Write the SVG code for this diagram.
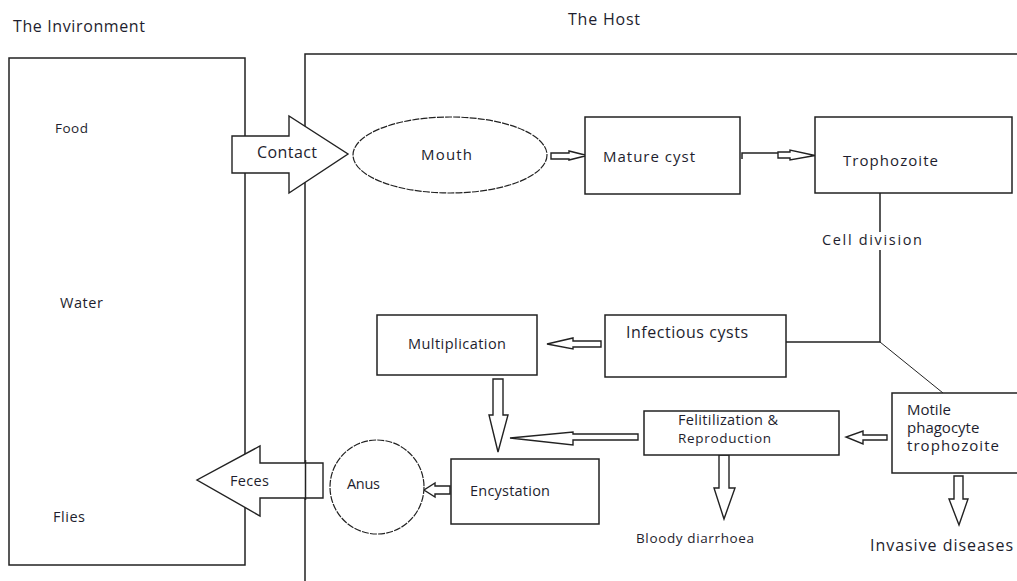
<svg xmlns="http://www.w3.org/2000/svg" width="1017" height="581" viewBox="0 0 1017 581">
<style>
.ln{fill:none;stroke:#222;stroke-width:1.5}
.bx{fill:#fff;stroke:#222;stroke-width:1.5}
.ds{fill:#fff;stroke:#222;stroke-width:1.2;stroke-dasharray:7 1.2}
.ar{fill:#fff;stroke:#222;stroke-width:1.4;stroke-linejoin:miter}
.t{font-family:"Open Sans","DejaVu Sans",sans-serif;fill:#1e1e2e}
.s15{font-size:16px}
.s14{font-size:15px}
.s13{font-size:14.5px}
.s12{font-size:13.5px}
</style>
<rect width="1017" height="581" fill="#fff"/>
<text class="t s15" x="13" y="32" textLength="132">The Invironment</text>
<text class="t s15" x="568" y="25" textLength="72">The Host</text>

<g id="environment">
<rect class="bx" x="9" y="58" width="236" height="507"/>
<text class="t s12" x="55" y="133" textLength="33">Food</text>
<text class="t s13" x="60" y="308" textLength="43">Water</text>
<text class="t s13" x="53" y="522" textLength="32">Flies</text>
</g>

<g id="host">
<path class="ln" d="M305,581 V54 H1017"/>
</g>

<g id="connectors">
<path class="ar" d="M232,136 H289 V116 L348,154 L289,193 V173 H232 Z"/>
<path class="ar" d="M323,463 H260 V446 L197,480 L260,516 V498 H323 Z"/>
<line x1="305.5" y1="460" x2="305.5" y2="500" stroke="#222" stroke-width="1.5"/>
<path class="ar" d="M551,153 H569 V151 L587,155.5 L569,160 V159 H551 Z"/>
<path class="ln" d="M742,159 V153 H778"/>
<path class="ar" d="M778,152 H790 V150 L815,155.5 L790,160 V158 H778 Z"/>
<path class="ln" d="M880,193 V232 M880,250 V342 H786"/>
<path fill="none" stroke="#222" stroke-width="1" d="M880,342 L943,393"/>
<path class="ar" d="M601,341 V347 H573 V349 L547,344 L573,338 V341 Z"/>
<path class="ar" d="M493,379 H503 V415 H508 L498,452 L489,415 H493 Z"/>
<path class="ar" d="M638,434 V440 H573 V445 L510,438 L573,432 V434 Z"/>
<path class="ar" d="M887,435 V440 H863 V444 L846,437 L863,431 V435 Z"/>
<path class="ar" d="M719,455 H729 V488 H735 L724,519 L714,488 H719 Z"/>
<path class="ar" d="M954,476 H963 V499 H968 L959,525 L949,499 H954 Z"/>
<path class="ar" d="M450,486 V494 H435 V497 L424,490 L435,483 V486 Z"/>
</g>

<text class="t s15" x="257" y="158" textLength="60">Contact</text>
<text class="t s13" x="230" y="486" textLength="39">Feces</text>
<text class="t s13" x="822" y="245" textLength="100">Cell division</text>

<g id="mouth">
<ellipse class="ds" cx="450" cy="155" rx="97" ry="38"/>
<text class="t s14" x="421" y="160" textLength="51">Mouth</text>
</g>
<g id="mature-cyst">
<rect class="bx" x="585" y="117" width="155" height="77"/>
<text class="t s14" x="603" y="162" textLength="92">Mature cyst</text>
</g>
<g id="trophozoite">
<rect class="bx" x="815" y="117" width="197" height="76"/>
<text class="t s14" x="843" y="166" textLength="95">Trophozoite</text>
</g>
<g id="infectious-cysts">
<rect class="bx" x="605" y="315" width="181" height="62"/>
<text class="t s15" x="626" y="338" textLength="122">Infectious cysts</text>
</g>
<g id="multiplication">
<rect class="bx" x="377" y="315" width="160" height="60"/>
<text class="t s13" x="408" y="349" textLength="98">Multiplication</text>
</g>
<g id="motile">
<rect class="bx" x="892" y="393" width="130" height="80"/>
<text class="t s14" x="907" y="415">Motile</text>
<text class="t s14" x="907" y="433">phagocyte</text>
<text class="t s14" x="907" y="451" textLength="92">trophozoite</text>
</g>
<text class="t s15" x="870" y="551" textLength="143">Invasive diseases</text>
<g id="felitilization">
<rect class="bx" x="644" y="411" width="195" height="44"/>
<text class="t s13" x="678" y="425" textLength="100">Felitilization &amp;</text>
<text class="t s12" x="678" y="443" textLength="93">Reproduction</text>
</g>
<text class="t s12" x="636" y="543" textLength="118">Bloody diarrhoea</text>
<g id="encystation">
<rect class="bx" x="451" y="459" width="148" height="65"/>
<text class="t s13" x="470" y="496" textLength="80">Encystation</text>
</g>
<g id="anus">
<circle class="ds" cx="377" cy="487" r="47"/>
<text class="t s13" x="347" y="489" textLength="33">Anus</text>
</g>
</svg>
